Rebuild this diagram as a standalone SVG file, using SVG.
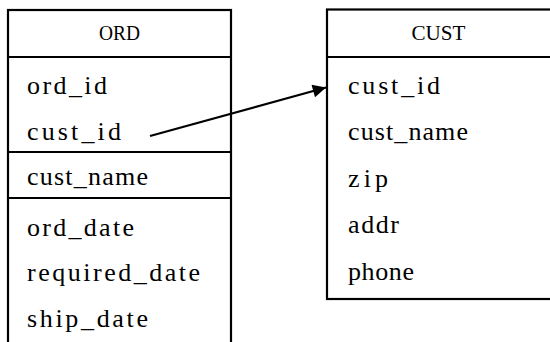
<svg xmlns="http://www.w3.org/2000/svg" width="550" height="342" viewBox="0 0 550 342">
<style>
.box{fill:#fff;stroke:#000;stroke-width:2.2}
.div{stroke:#000;stroke-width:2.2}
.hd{font-family:"Liberation Serif","Times New Roman",serif;font-size:22px;fill:#000;text-anchor:middle}
.f{font-family:"Liberation Serif","Times New Roman",serif;font-size:26px;fill:#000}
.conn{stroke:#000;stroke-width:2.2;fill:none}
</style>
<defs>
<marker id="arr" viewBox="0 0 10 10" refX="10" refY="5" markerWidth="8" markerHeight="6" markerUnits="strokeWidth" orient="auto">
<path d="M0,0 L10,5 L0,10 z" fill="#000"/>
</marker>
</defs>
<rect width="550" height="342" fill="#fff"/>
<g id="ORD">
<rect class="box" x="8" y="10" width="223" height="345"/>
<line class="div" x1="8" y1="57" x2="231" y2="57"/>
<line class="div" x1="8" y1="152" x2="231" y2="152"/>
<line class="div" x1="8" y1="198" x2="231" y2="198"/>
<text class="hd" x="119.5" y="40" textLength="41" lengthAdjust="spacingAndGlyphs">ORD</text>
<text class="f" x="27" y="94" textLength="80" lengthAdjust="spacing">ord_id</text>
<text class="f" x="27" y="140" textLength="94" lengthAdjust="spacing">cust_id</text>
<text class="f" x="27" y="185" textLength="121" lengthAdjust="spacing">cust_name</text>
<text class="f" x="27" y="236" textLength="107" lengthAdjust="spacing">ord_date</text>
<text class="f" x="27" y="281" textLength="173" lengthAdjust="spacing">required_date</text>
<text class="f" x="27" y="327" textLength="121" lengthAdjust="spacing">ship_date</text>
</g>
<g id="CUST">
<rect class="box" x="327" y="9.5" width="230" height="289.5"/>
<line class="div" x1="327" y1="57" x2="552" y2="57"/>
<text class="hd" x="438.5" y="40" textLength="54" lengthAdjust="spacingAndGlyphs">CUST</text>
<text class="f" x="348" y="94" textLength="92" lengthAdjust="spacing">cust_id</text>
<text class="f" x="348" y="140" textLength="120" lengthAdjust="spacing">cust_name</text>
<text class="f" x="348" y="187" textLength="40" lengthAdjust="spacing">zip</text>
<text class="f" x="348" y="233" textLength="51" lengthAdjust="spacing">addr</text>
<text class="f" x="348" y="280" textLength="66" lengthAdjust="spacing">phone</text>
</g>
<g id="connectors">
<line class="conn" x1="150" y1="136" x2="326" y2="87.5" marker-end="url(#arr)"/>
</g>
</svg>
